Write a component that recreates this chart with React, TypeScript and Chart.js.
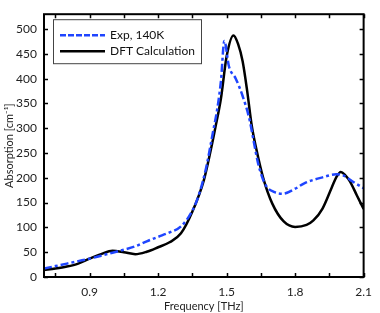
import React, { useEffect, useRef } from "react";
import { Chart, registerables } from "chart.js";

Chart.register(...registerables);

const expFreq = [0.7, 0.75, 0.8, 0.85, 0.9, 0.95, 1.0, 1.05, 1.1, 1.15, 1.2, 1.25, 1.3, 1.35, 1.38, 1.41, 1.44, 1.46, 1.475, 1.49, 1.51, 1.54, 1.57, 1.6, 1.62, 1.64, 1.67, 1.71, 1.745, 1.8, 1.84, 1.92, 1.98, 2.01, 2.05, 2.1];
const expAbs = [17, 22, 27, 32, 37, 43, 49, 55, 62, 72, 81, 90, 102, 134, 168, 220, 292, 342, 395, 476, 425, 400, 365, 318, 270, 225, 186, 171, 168, 178, 189, 201, 207, 205, 193, 179];

const dftFreq = [0.7, 0.75, 0.8, 0.85, 0.9, 0.95, 1.0, 1.05, 1.1, 1.15, 1.2, 1.25, 1.3, 1.35, 1.4, 1.43, 1.45, 1.475, 1.5, 1.53, 1.55, 1.57, 1.59, 1.61, 1.63, 1.66, 1.7, 1.75, 1.8, 1.85, 1.88, 1.92, 1.96, 1.98, 2.0, 2.02, 2.04, 2.07, 2.1];
const dftAbs = [14, 17, 21, 27, 37, 46, 53, 50, 46, 51, 60, 70, 88, 132, 195, 255, 300, 360, 445, 487, 470, 435, 375, 305, 258, 200, 148, 112, 101, 105, 114, 138, 180, 201, 212, 205, 193, 165, 137];

const xTicks = [0.75, 0.9, 1.05, 1.2, 1.35, 1.5, 1.65, 1.8, 1.95, 2.1];
const xLabels = ["0.9", "1.2", "1.5", "1.8", "2.1"];
const yTicks = [0, 50, 100, 150, 200, 250, 300, 350, 400, 450, 500];

const seriesNames = ["Exp, 140K", "DFT Calculation"];
const FONT = "Lato";
const BLUE = "#1f45ff";

const framePlugin = {
  id: "frame",
  afterDatasetsDraw(chart: any) {
    const { ctx, chartArea: a, scales } = chart;
    const xs = scales.x;
    const ys = scales.y;
    ctx.save();
    ctx.strokeStyle = "#000";
    ctx.lineWidth = 1.5;
    ctx.beginPath();
    for (const v of xTicks) {
      const px = Math.round(xs.getPixelForValue(v)) + 0.5;
      ctx.moveTo(px, a.bottom);
      ctx.lineTo(px, a.bottom - 4);
      ctx.moveTo(px, a.top);
      ctx.lineTo(px, a.top + 4);
    }
    for (const v of yTicks) {
      const py = Math.round(ys.getPixelForValue(v)) + 0.5;
      ctx.moveTo(a.left, py);
      ctx.lineTo(a.left + 4, py);
      ctx.moveTo(a.right, py);
      ctx.lineTo(a.right - 4, py);
    }
    ctx.stroke();
    ctx.lineWidth = 2;
    ctx.strokeRect(a.left, a.top, a.right - a.left, a.bottom - a.top);

    // legend
    const lx = a.left + 9;
    const ly = a.top + 5;
    const lw = 148;
    const lh = 44;
    ctx.fillStyle = "#fff";
    ctx.fillRect(lx, ly, lw, lh);
    ctx.lineWidth = 1;
    ctx.strokeStyle = "#444";
    ctx.strokeRect(lx + 0.5, ly + 0.5, lw, lh);
    const dsets = chart.data.datasets;
    dsets.forEach((d: any, i: number) => {
      const yy = ly + 16 + i * 16;
      ctx.beginPath();
      ctx.strokeStyle = d.borderColor;
      ctx.lineWidth = 2.5;
      ctx.setLineDash(i === 0 ? [6, 2] : []);
      ctx.moveTo(lx + 7, yy);
      ctx.lineTo(lx + 52, yy);
      ctx.stroke();
      ctx.setLineDash([]);
      ctx.fillStyle = "#111";
      ctx.font = `12px ${FONT}`;
      ctx.textBaseline = "middle";
      ctx.fillText(d.label, lx + 57, yy);
    });
    ctx.restore();
  },
};

export default function App() {
  const ref = useRef<HTMLCanvasElement | null>(null);
  useEffect(() => {
    if (!ref.current) return;
    const chart = new Chart(ref.current, {
      type: "line",
      data: {
        datasets: [
          {
            label: seriesNames[0],
            data: expFreq.map((f, i) => ({ x: f, y: expAbs[i] })),
            borderColor: BLUE,
            borderWidth: 2.5,
            borderDash: [8, 3, 3, 3],
            pointRadius: 0,
            cubicInterpolationMode: "monotone",
            fill: false,
          },
          {
            label: seriesNames[1],
            data: dftFreq.map((f, i) => ({ x: f, y: dftAbs[i] })),
            borderColor: "#000",
            borderWidth: 2.5,
            pointRadius: 0,
            cubicInterpolationMode: "monotone",
            fill: false,
          },
        ],
      },
      options: {
        animation: false,
        responsive: true,
        maintainAspectRatio: false,
        layout: { padding: { top: 3, right: 8, left: 0, bottom: 0 } },
        plugins: { legend: { display: false }, tooltip: { enabled: false } },
        scales: {
          x: {
            type: "linear",
            min: 0.7,
            max: 2.1,
            afterBuildTicks: (s: any) => {
              s.ticks = xTicks.map((v) => ({ value: v }));
            },
            afterFit: (s: any) => {
              s.height = 36;
            },
            grid: { display: false, drawTicks: false },
            border: { display: false },
            ticks: {
              padding: 8,
              autoSkip: false,
              maxRotation: 0,
              color: "#222",
              font: { family: FONT, size: 12 },
              callback: (v: any) => {
                const s = Number(v).toFixed(1);
                return xLabels.includes(s) && Math.abs(Number(v) * 10 - Math.round(Number(v) * 10)) < 1e-6 ? s : "";
              },
            },
            title: {
              display: true,
              text: "Frequency [THz]",
              color: "#222",
              font: { family: FONT, size: 11 },
              padding: { top: 0, bottom: 0 },
            },
          },
          y: {
            type: "linear",
            min: 0,
            max: 530,
            afterBuildTicks: (s: any) => {
              s.ticks = yTicks.map((v) => ({ value: v }));
            },
            afterFit: (s: any) => {
              s.width = 44;
            },
            grid: { display: false, drawTicks: false },
            border: { display: false },
            ticks: {
              padding: 7,
              color: "#222",
              font: { family: FONT, size: 12 },
            },
            title: {
              display: true,
              text: "Absorption [cm⁻¹]",
              color: "#222",
              font: { family: FONT, size: 11 },
              padding: { top: 3, bottom: 0 },
            },
          },
        },
      },
      plugins: [framePlugin],
    } as any);
    return () => chart.destroy();
  }, []);
  return (
    <div style={{ position: "fixed", left: 0, top: 0, width: 380, height: 313, background: "#fff" }}>
      <canvas ref={ref} />
    </div>
  );
}
